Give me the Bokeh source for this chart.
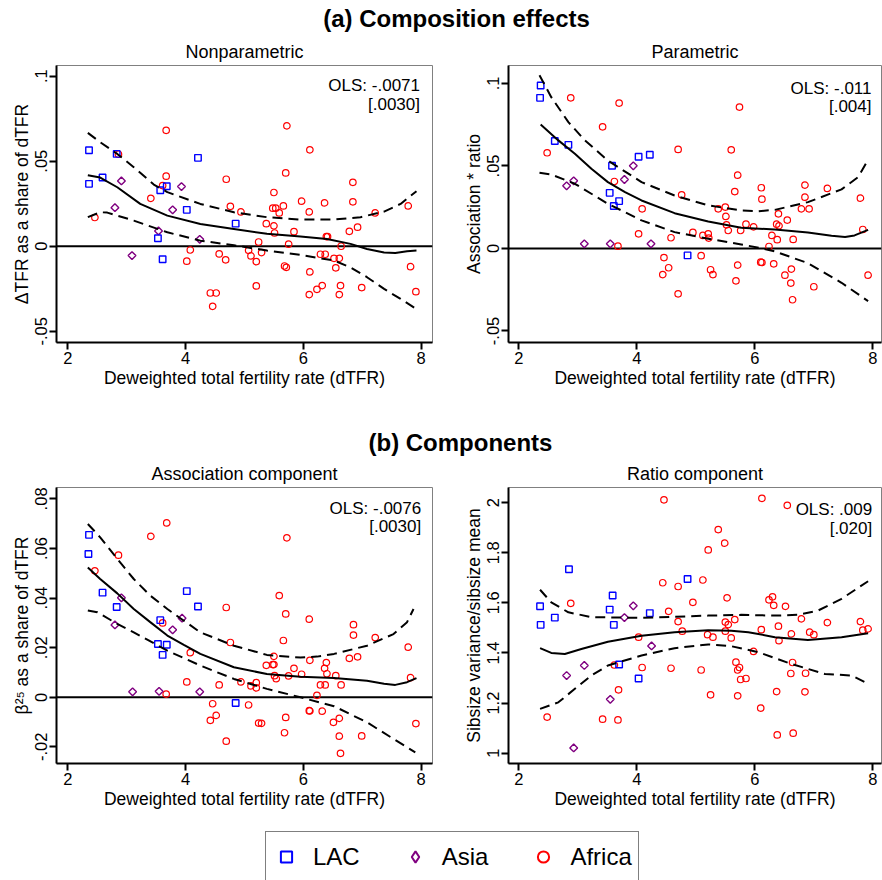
import math
from bokeh.plotting import figure
from bokeh.layouts import column, row
from bokeh.models import Range1d, FixedTicker, Span, Label, Legend, LegendItem
from bokeh.embed import file_html
from bokeh.resources import INLINE

FONT = "Liberation Sans"

# ---------------- text ----------------
TITLE_A = "(a) Composition effects"
TITLE_B = "(b) Components"
PANEL_TITLES = ["Nonparametric", "Parametric", "Association component", "Ratio component"]
XLABEL = "Deweighted total fertility rate (dTFR)"
YLABELS = ["\u0394TFR as a share of dTFR", "Association * ratio",
           "\u03b2\u00b2\u2075 as a share of dTFR", "Sibsize variance/sibsize mean"]
OLS_NP = ["OLS: -.0071", "[.0030]"]
OLS_PAR = ["OLS: -.011", "[.004]"]
OLS_AS = ["OLS: -.0076", "[.0030]"]
OLS_RA = ["OLS: .009", "[.020]"]
LEGEND_LABELS = ["LAC", "Asia", "Africa"]

# ---------------- ticks ----------------
X_TICKS = [2, 4, 6, 8]
X_TICK_LABELS = ["2", "4", "6", "8"]
Y_TICKS_NP = [-0.05, 0, 0.05, 0.1]
Y_TICK_LABELS_NP = ["-.05", "0", ".05", ".1"]
Y_TICKS_PAR = [-0.05, 0, 0.05, 0.1]
Y_TICK_LABELS_PAR = ["-.05", "0", ".05", ".1"]
Y_TICKS_AS = [-0.02, 0, 0.02, 0.04, 0.06, 0.08]
Y_TICK_LABELS_AS = ["-.02", "0", ".02", ".04", ".06", ".08"]
Y_TICKS_RA = [1, 1.2, 1.4, 1.6, 1.8, 2]
Y_TICK_LABELS_RA = ["1", "1.2", "1.4", "1.6", "1.8", "2"]

# ---------------- Panel 1: Nonparametric ----------------
LAC_X_NP = [2.36, 2.36, 2.59, 2.83, 3.53, 3.57, 3.61, 3.68, 4.02, 4.21, 4.85]
LAC_Y_NP = [0.0565, 0.0367, 0.0404, 0.0543, 0.0047, 0.0329, -0.0076, 0.0353, 0.0214, 0.0520, 0.0133]
ASIA_X_NP = [2.80, 2.91, 3.09, 3.54, 3.78, 3.93, 4.24]
ASIA_Y_NP = [0.0227, 0.0384, -0.0055, 0.0090, 0.0214, 0.0351, 0.0041]
AFR_X_NP = [2.46, 2.86, 3.41, 3.67, 3.67, 3.61, 4.02, 4.08, 4.42, 4.52, 4.46, 4.57, 4.68, 4.69, 4.76, 4.94,
            5.07, 5.11, 5.20, 5.20, 5.24, 5.29, 5.37, 5.50, 5.50, 5.48, 5.53, 5.59, 5.66, 5.51, 5.68, 5.71,
            5.70, 5.72, 5.75, 5.84, 5.97, 6.10, 6.11, 6.10, 6.11, 6.23, 6.29, 6.32, 6.36, 6.37, 6.39, 6.41,
            6.52, 6.55, 6.61, 6.61, 6.63, 6.64, 6.78, 6.84, 6.84, 6.92, 6.99, 7.22, 7.78, 7.82, 7.91]
AFR_Y_NP = [0.0169, 0.0541, 0.0282, 0.0682, 0.0412, 0.0357, -0.0088, -0.0022, -0.0275, -0.0275, -0.0353,
            -0.0045, -0.0080, 0.0394, 0.0235, 0.0202, -0.0024, -0.0057, -0.0090, -0.0233, 0.0025, -0.0037,
            0.0133, 0.0120, 0.0316, 0.0224, 0.0224, 0.0196, 0.0237, 0.0078, -0.0116, -0.0124, 0.0431, 0.0708,
            0.0012, 0.0086, 0.0265, 0.0202, -0.0151, -0.0284, 0.0567, -0.0253, -0.0047, -0.0231, 0.0255,
            -0.0047, 0.0057, 0.0057, -0.0071, -0.0127, -0.0071, -0.0284, -0.0231, 0.0000, 0.0088, 0.0376,
            0.0261, 0.0112, -0.0243, 0.0196, 0.0237, -0.0120, -0.0267]
FIT_X_NP = [2.34, 2.55, 2.84, 3.23, 3.69, 4.25, 4.82, 5.38, 5.95, 6.40, 6.80, 7.08, 7.37, 7.56, 7.76, 7.92]
FIT_Y_NP = [0.0418, 0.0404, 0.0347, 0.0249, 0.0180, 0.0131, 0.0102, 0.0073, 0.0057, 0.0043, 0.0014,
            -0.0016, -0.0037, -0.0039, -0.0029, -0.0025]
HI_X_NP = [2.34, 2.55, 2.84, 3.12, 3.46, 3.69, 4.25, 4.82, 5.38, 5.95, 6.52, 6.97, 7.37, 7.65, 7.92]
HI_Y_NP = [0.0667, 0.0612, 0.0543, 0.0465, 0.0363, 0.0318, 0.0249, 0.0200, 0.0171, 0.0157, 0.0157,
           0.0171, 0.0204, 0.0249, 0.0324]
LO_X_NP = [2.34, 2.55, 2.67, 3.12, 3.69, 4.25, 4.82, 5.38, 5.95, 6.52, 6.80, 7.08, 7.37, 7.65, 7.92]
LO_Y_NP = [0.0171, 0.0200, 0.0198, 0.0151, 0.0082, 0.0033, 0.0006, -0.0025, -0.0051, -0.0084, -0.0124,
           -0.0182, -0.0251, -0.0310, -0.0369]

# ---------------- Panel 2: Parametric ----------------
LAC_X_PAR = [2.37, 2.36, 2.61, 2.84, 3.58, 3.54, 3.61, 3.70, 4.03, 4.22, 4.86]
LAC_Y_PAR = [0.0988, 0.0913, 0.0651, 0.0628, 0.0501, 0.0337, 0.0257, 0.0287, 0.0556, 0.0568, -0.0042]
ASIA_X_PAR = [2.81, 2.93, 3.11, 3.55, 3.79, 3.94, 4.24]
ASIA_Y_PAR = [0.0380, 0.0410, 0.0028, 0.0028, 0.0418, 0.0501, 0.0028]
AFR_X_PAR = [2.48, 2.88, 3.42, 3.70, 3.62, 3.68, 4.03, 4.09, 4.44, 4.46, 4.54, 4.58, 4.70, 4.70, 4.76, 4.95,
             5.09, 5.12, 5.21, 5.22, 5.25, 5.29, 5.38, 5.50, 5.51, 5.52, 5.55, 5.60, 5.66, 5.71, 5.68, 5.71,
             5.74, 5.76, 5.85, 5.98, 6.11, 6.12, 6.10, 6.12, 6.24, 6.29, 6.32, 6.37, 6.38, 6.40, 6.41, 6.51,
             6.55, 6.62, 6.61, 6.64, 6.65, 6.79, 6.85, 6.85, 6.92, 7.00, 7.23, 7.79, 7.83, 7.92]
AFR_Y_PAR = [0.0580, 0.0913, 0.0737, 0.0881, 0.0406, 0.0014, 0.0089, 0.0240, -0.0158, -0.0055, -0.0117,
             0.0065, -0.0275, 0.0600, 0.0325, 0.0097, -0.0044, 0.0079, 0.0089, 0.0063, -0.0129, -0.0158,
             0.0240, 0.0251, 0.0194, 0.0143, 0.0109, 0.0598, 0.0345, 0.0444, -0.0196, -0.0101, 0.0857,
             0.0109, 0.0147, 0.0131, 0.0368, 0.0299, -0.0083, -0.0085, 0.0012, 0.0079, -0.0093, 0.0147,
             0.0053, 0.0210, 0.0137, -0.0162, 0.0172, -0.0125, -0.0210, -0.0311, 0.0055, 0.0240, 0.0384,
             0.0311, 0.0240, -0.0232, 0.0364, 0.0305, 0.0115, -0.0162]
FIT_X_PAR = [2.37, 2.67, 2.95, 3.23, 3.51, 3.80, 4.08, 4.64, 5.21, 5.77, 6.34, 6.90, 7.30, 7.53, 7.69, 7.92]
FIT_Y_PAR = [0.0752, 0.0655, 0.0574, 0.0483, 0.0402, 0.0341, 0.0291, 0.0214, 0.0164, 0.0125, 0.0115,
             0.0097, 0.0077, 0.0069, 0.0079, 0.0113]
HI_X_PAR = [2.35, 2.55, 2.84, 3.12, 3.51, 4.08, 4.64, 5.21, 5.77, 6.06, 6.34, 6.90, 7.47, 7.75, 7.92]
HI_Y_PAR = [0.1050, 0.0917, 0.0766, 0.0655, 0.0533, 0.0402, 0.0321, 0.0261, 0.0230, 0.0226, 0.0234,
            0.0281, 0.0358, 0.0432, 0.0537]
LO_X_PAR = [2.35, 2.55, 2.95, 3.51, 4.08, 4.64, 5.21, 5.77, 6.11, 6.34, 6.90, 7.47, 7.92]
LO_Y_PAR = [0.0459, 0.0448, 0.0392, 0.0271, 0.0170, 0.0099, 0.0059, 0.0024, 0.0002, -0.0018, -0.0089,
            -0.0208, -0.0319]

# ---------------- Panel 3: Association component ----------------
LAC_X_AS = [2.36, 2.35, 2.59, 2.83, 3.57, 3.53, 3.68, 3.61, 4.02, 4.21, 4.85]
LAC_Y_AS = [0.0655, 0.0578, 0.0422, 0.0364, 0.0311, 0.0215, 0.0212, 0.0171, 0.0428, 0.0366, -0.0023]
ASIA_X_AS = [2.80, 2.91, 3.10, 3.55, 3.78, 3.94, 4.24]
ASIA_Y_AS = [0.0292, 0.0401, 0.0022, 0.0024, 0.0272, 0.0319, 0.0022]
AFR_X_AS = [2.46, 2.86, 3.41, 3.68, 3.61, 3.67, 4.02, 4.08, 4.42, 4.46, 4.52, 4.57, 4.69, 4.69, 4.76, 4.94,
            5.07, 5.11, 5.20, 5.20, 5.24, 5.29, 5.37, 5.48, 5.50, 5.50, 5.51, 5.54, 5.59, 5.66, 5.68, 5.70,
            5.70, 5.72, 5.75, 5.84, 5.97, 6.10, 6.11, 6.10, 6.11, 6.23, 6.29, 6.32, 6.36, 6.37, 6.39, 6.40,
            6.51, 6.55, 6.61, 6.61, 6.63, 6.64, 6.78, 6.85, 6.85, 6.92, 6.99, 7.22, 7.78, 7.82, 7.91]
AFR_Y_AS = [0.0510, 0.0573, 0.0649, 0.0703, 0.0300, 0.0013, 0.0062, 0.0180, -0.0093, -0.0026, -0.0073,
            0.0050, -0.0177, 0.0362, 0.0221, 0.0062, -0.0031, 0.0046, 0.0059, 0.0038, -0.0104, -0.0105,
            0.0129, 0.0132, 0.0132, 0.0165, 0.0087, 0.0075, 0.0410, 0.0229, -0.0143, 0.0336, -0.0081,
            0.0643, 0.0086, 0.0117, 0.0093, 0.0315, 0.0149, -0.0054, -0.0055, 0.0008, 0.0050, -0.0056,
            0.0117, 0.0050, 0.0140, 0.0095, -0.0101, 0.0087, -0.0085, -0.0157, -0.0226, 0.0050, 0.0157,
            0.0293, 0.0251, 0.0163, -0.0156, 0.0241, 0.0202, 0.0079, -0.0106]
FIT_X_AS = [2.34, 2.55, 2.84, 3.12, 3.40, 3.69, 3.97, 4.25, 4.82, 5.38, 5.95, 6.52, 7.08, 7.37, 7.56, 7.76, 7.92]
FIT_Y_AS = [0.0523, 0.0477, 0.0419, 0.0356, 0.0303, 0.0249, 0.0211, 0.0175, 0.0121, 0.0094, 0.0083,
            0.0078, 0.0067, 0.0055, 0.0050, 0.0061, 0.0077]
HI_X_AS = [2.34, 2.55, 2.84, 3.12, 3.40, 3.69, 4.25, 4.82, 5.38, 5.95, 6.23, 6.52, 7.08, 7.53, 7.76, 7.87]
HI_Y_AS = [0.0699, 0.0645, 0.0558, 0.0477, 0.0410, 0.0356, 0.0262, 0.0208, 0.0171, 0.0160, 0.0164,
           0.0175, 0.0208, 0.0255, 0.0303, 0.0356]
LO_X_AS = [2.34, 2.50, 2.84, 3.12, 3.69, 4.25, 4.82, 5.38, 5.95, 6.52, 7.08, 7.53, 7.90]
LO_Y_AS = [0.0350, 0.0343, 0.0296, 0.0262, 0.0188, 0.0128, 0.0074, 0.0034, 0.0000, -0.0036, -0.0101,
           -0.0168, -0.0222]

# ---------------- Panel 4: Ratio component ----------------
LAC_X_RA = [2.36, 2.37, 2.61, 2.85, 3.54, 3.59, 3.61, 3.70, 4.03, 4.22, 4.86]
LAC_Y_RA = [1.586, 1.512, 1.541, 1.734, 1.573, 1.629, 1.512, 1.354, 1.298, 1.559, 1.695]
ASIA_X_RA = [2.81, 2.93, 3.11, 3.55, 3.79, 3.94, 4.25]
ASIA_Y_RA = [1.310, 1.021, 1.350, 1.215, 1.541, 1.588, 1.428]
AFR_X_RA = [2.48, 2.88, 3.42, 3.62, 3.69, 3.68, 4.03, 4.09, 4.44, 4.46, 4.54, 4.58, 4.70, 4.70, 4.77, 4.95,
            5.09, 5.12, 5.21, 5.20, 5.25, 5.29, 5.38, 5.49, 5.50, 5.50, 5.53, 5.55, 5.60, 5.66, 5.68, 5.71,
            5.74, 5.71, 5.76, 5.85, 5.98, 6.11, 6.12, 6.10, 6.24, 6.30, 6.32, 6.37, 6.40, 6.38, 6.41, 6.52,
            6.55, 6.62, 6.61, 6.64, 6.65, 6.79, 6.86, 6.85, 6.93, 7.00, 7.23, 7.79, 7.83, 7.92]
AFR_Y_RA = [1.144, 1.598, 1.136, 1.352, 1.253, 1.133, 1.463, 1.342, 1.680, 2.011, 1.566, 1.339, 1.525,
            1.665, 1.487, 1.602, 1.332, 1.691, 1.811, 1.473, 1.233, 1.463, 1.892, 1.838, 1.487, 1.523,
            1.620, 1.513, 1.460, 1.533, 1.363, 1.332, 1.342, 1.229, 1.294, 1.298, 1.406, 1.493, 2.017,
            1.180, 1.612, 1.624, 1.590, 1.246, 1.507, 1.073, 1.449, 1.586, 1.989, 1.476, 1.318, 1.362,
            1.080, 1.536, 1.319, 1.245, 1.483, 1.473, 1.521, 1.525, 1.491, 1.496]
FIT_X_RA = [2.36, 2.55, 2.78, 3.06, 3.51, 4.08, 4.64, 5.21, 5.60, 5.89, 6.34, 6.90, 7.47, 7.92]
FIT_Y_RA = [1.419, 1.400, 1.396, 1.416, 1.445, 1.469, 1.483, 1.491, 1.489, 1.483, 1.463, 1.452, 1.463, 1.479]
HI_X_RA = [2.36, 2.55, 2.84, 3.23, 4.08, 4.64, 5.21, 5.77, 6.34, 6.73, 7.07, 7.47, 7.92]
HI_Y_RA = [1.652, 1.602, 1.562, 1.543, 1.540, 1.544, 1.549, 1.552, 1.549, 1.552, 1.569, 1.616, 1.686]
LO_X_RA = [2.36, 2.67, 2.95, 3.23, 3.51, 4.08, 4.64, 5.21, 5.60, 6.06, 6.62, 7.19, 7.64, 7.92]
LO_Y_RA = [1.177, 1.203, 1.257, 1.310, 1.350, 1.390, 1.419, 1.434, 1.427, 1.403, 1.356, 1.316, 1.310, 1.277]

# ---------------- styling / layout ----------------
C_LAC, C_ASIA, C_AFR = "#0000ff", "#800080", "#ff0000"
TOTAL_W = 882


def make_panel(title, ylabel, xr, yr, yticks, yticklabels, w, h, bl, br, bt, bb):
    p = figure(width=w, height=h, x_range=Range1d(*xr), y_range=Range1d(*yr),
               output_backend="svg", toolbar_location=None,
               min_border_left=bl, min_border_right=br, min_border_top=bt, min_border_bottom=bb)
    p.title.text = title
    p.title.align = "center"
    p.title.text_font = FONT
    p.title.text_font_size = "18px"
    p.title.text_font_style = "normal"
    p.title.text_color = "black"
    p.title.standoff = 7
    p.grid.visible = False
    p.outline_line_color = "#808080"
    p.outline_line_width = 1
    p.background_fill_color = "white"
    p.border_fill_color = "white"
    for ax in (p.xaxis[0], p.yaxis[0]):
        ax.axis_line_width = 2
        ax.axis_line_color = "black"
        ax.major_tick_line_width = 2
        ax.major_tick_line_color = "black"
        ax.major_tick_out = 7
        ax.major_tick_in = 0
        ax.minor_tick_line_color = None
        ax.major_label_text_font = FONT
        ax.major_label_text_font_size = "16.5px"
        ax.major_label_text_color = "black"
        ax.axis_label_text_font = FONT
        ax.axis_label_text_font_size = "17.5px"
        ax.axis_label_text_font_style = "normal"
        ax.axis_label_text_color = "black"
        ax.major_label_standoff = 2
        ax.axis_label_standoff = 1
    p.xaxis.ticker = FixedTicker(ticks=X_TICKS)
    p.xaxis.major_label_overrides = dict(zip(X_TICKS, X_TICK_LABELS))
    p.yaxis.ticker = FixedTicker(ticks=yticks)
    p.yaxis.major_label_overrides = dict(zip(yticks, yticklabels))
    p.yaxis.major_label_orientation = "vertical"
    p.xaxis.axis_label = XLABEL
    p.yaxis.axis_label = ylabel
    return p


def fill_panel(p, groups, fit, hi, lo, ols, zero_line, ols_dx, ols_dy):
    if zero_line:
        p.add_layout(Span(location=0, dimension="width", line_color="black",
                          line_width=2, level="underlay"))
    (lx, ly), (ax_, ay), (fx, fy) = groups
    p.scatter(fx, fy, marker="circle", size=6.5, fill_color=None,
              line_color=C_AFR, line_width=1.2)
    p.scatter(ax_, ay, marker="square", angle=math.pi / 4, size=5.5, fill_color=None,
              line_color=C_ASIA, line_width=1.4)
    p.scatter(lx, ly, marker="square", size=6.5, fill_color=None,
              line_color=C_LAC, line_width=1.4)
    p.line(hi[0], hi[1], line_color="black", line_width=2, line_dash="10 6")
    p.line(lo[0], lo[1], line_color="black", line_width=2, line_dash="10 6")
    p.line(fit[0], fit[1], line_color="black", line_width=2)
    xr, yr = p.x_range, p.y_range
    for txt, dy in zip(ols, ols_dy):
        p.add_layout(Label(x=xr.end, y=yr.end, x_offset=-ols_dx, y_offset=-dy, text=txt,
                           text_align="right", text_baseline="middle", text_font=FONT,
                           text_font_size="17px", text_color="black"))


XR_L = (1.808, 8.192)
XR_R = (1.825, 8.147)

p1 = make_panel(PANEL_TITLES[0], YLABELS[0], XR_L, (-0.0566, 0.1063),
                Y_TICKS_NP, Y_TICK_LABELS_NP, 441, 376, 56, 9, 29, 70)
fill_panel(p1, [(LAC_X_NP, LAC_Y_NP), (ASIA_X_NP, ASIA_Y_NP), (AFR_X_NP, AFR_Y_NP)],
           (FIT_X_NP, FIT_Y_NP), (HI_X_NP, HI_Y_NP), (LO_X_NP, LO_Y_NP), OLS_NP, True, 12.5, (20, 38.5))

p2 = make_panel(PANEL_TITLES[1], YLABELS[1], XR_R, (-0.0570, 0.1109),
                Y_TICKS_PAR, Y_TICK_LABELS_PAR, 441, 376, 67, 1, 29, 70)
fill_panel(p2, [(LAC_X_PAR, LAC_Y_PAR), (ASIA_X_PAR, ASIA_Y_PAR), (AFR_X_PAR, AFR_Y_PAR)],
           (FIT_X_PAR, FIT_Y_PAR), (HI_X_PAR, HI_Y_PAR), (LO_X_PAR, LO_Y_PAR), OLS_PAR, True, 10, (23, 41))

p3 = make_panel(PANEL_TITLES[2], YLABELS[2], XR_L, (-0.0267, 0.0846),
                Y_TICKS_AS, Y_TICK_LABELS_AS, 441, 372, 56, 9, 29, 67)
fill_panel(p3, [(LAC_X_AS, LAC_Y_AS), (ASIA_X_AS, ASIA_Y_AS), (AFR_X_AS, AFR_Y_AS)],
           (FIT_X_AS, FIT_Y_AS), (HI_X_AS, HI_Y_AS), (LO_X_AS, LO_Y_AS), OLS_AS, True, 11.3, (21, 38.5))

p4 = make_panel(PANEL_TITLES[3], YLABELS[3], XR_R, (0.959, 2.060),
                Y_TICKS_RA, Y_TICK_LABELS_RA, 441, 372, 67, 1, 29, 67)
fill_panel(p4, [(LAC_X_RA, LAC_Y_RA), (ASIA_X_RA, ASIA_Y_RA), (AFR_X_RA, AFR_Y_RA)],
           (FIT_X_RA, FIT_Y_RA), (HI_X_RA, HI_Y_RA), (LO_X_RA, LO_Y_RA), OLS_RA, False, 9.3, (22, 40.5))


def make_header(text, h, fx, fy):
    f = figure(width=TOTAL_W, height=h, x_range=Range1d(0, 1), y_range=Range1d(0, 1),
               x_axis_location=None, y_axis_location=None, output_backend="svg",
               toolbar_location=None, min_border=0, title=None)
    f.grid.visible = False
    f.outline_line_color = None
    f.add_layout(Label(x=fx, y=fy, text=text, text_align="center", text_baseline="middle",
                       text_font=FONT, text_font_style="bold", text_font_size="24px",
                       text_color="black"))
    return f


h1 = make_header(TITLE_A, 36, 0.517, 0.5)
h2 = make_header(TITLE_B, 46, 0.5215, 0.354)

# legend strip: its dummy renderers reuse the ratio-panel data, which lie outside this strip's ranges
lg = figure(width=TOTAL_W, height=50, x_range=Range1d(0, 1), y_range=Range1d(0, 1),
            x_axis_location=None, y_axis_location=None, output_backend="svg",
            toolbar_location=None, min_border=0, title=None)
lg.grid.visible = False
lg.outline_line_color = None
r_lac = lg.scatter(LAC_X_RA, LAC_Y_RA, marker="square", fill_color=None, line_color=C_LAC, line_width=2)
r_asia = lg.scatter(ASIA_X_RA, ASIA_Y_RA, marker="diamond", fill_color=None, line_color=C_ASIA, line_width=2)
r_afr = lg.scatter(AFR_X_RA, AFR_Y_RA, marker="circle", fill_color=None, line_color=C_AFR, line_width=2)
legend = Legend(items=[LegendItem(label=LEGEND_LABELS[0], renderers=[r_lac]),
                       LegendItem(label=LEGEND_LABELS[1], renderers=[r_asia]),
                       LegendItem(label=LEGEND_LABELS[2], renderers=[r_afr])],
                orientation="horizontal", location=(265, -2), margin=0, padding=6,
                spacing=41, label_standoff=13, glyph_width=28, glyph_height=37,
                label_text_font=FONT, label_text_font_size="24px", label_text_color="black",
                border_line_color="black", border_line_width=1.5,
                background_fill_color="white", background_fill_alpha=1.0)
lg.add_layout(legend)

layout = column(h1, row(p1, p2), h2, row(p3, p4), lg)

with open("out.html", "w") as fh:
    fh.write(file_html(layout, INLINE))
